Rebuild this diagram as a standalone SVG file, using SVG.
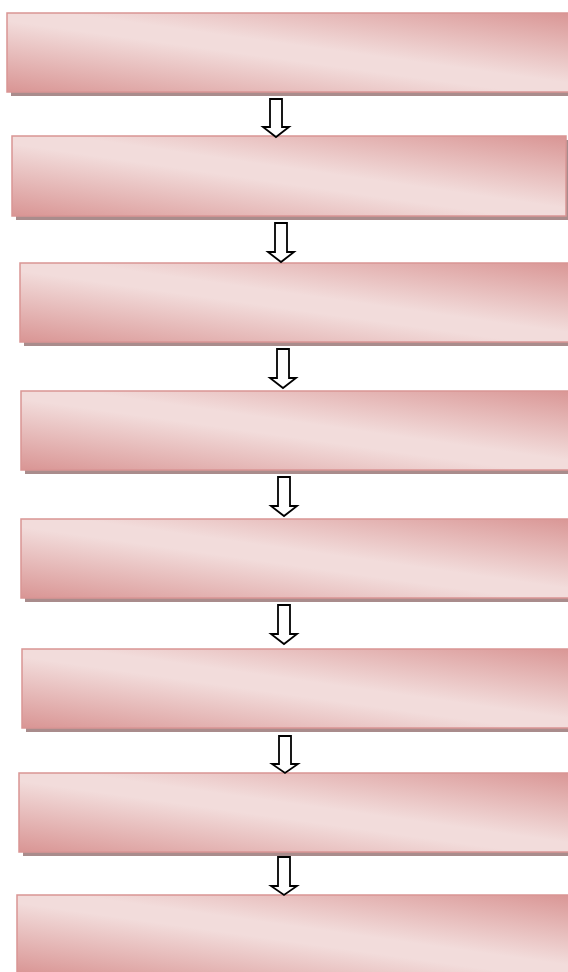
<svg xmlns="http://www.w3.org/2000/svg" width="568" height="972" viewBox="0 0 568 972">
<defs>
<linearGradient id="g" x1="1" y1="0" x2="0" y2="1">
<stop offset="0" stop-color="#d99594"/>
<stop offset="0.45" stop-color="#f2dcdb"/>
<stop offset="0.55" stop-color="#f2dcdb"/>
<stop offset="1" stop-color="#d99594"/>
</linearGradient>
</defs>
<style>
.sh{fill:#a98c8c}
.bx{fill:url(#g);stroke:#d99594;stroke-width:1.5}
.ar{fill:#ffffff;stroke:#000000;stroke-width:1.8;stroke-linejoin:miter}
</style>
<g id="node1"><rect class="sh" x="11" y="17" width="570" height="79"/><rect class="bx" x="7" y="13" width="570" height="79"/></g>
<g id="node2"><rect class="sh" x="16" y="140" width="554" height="80"/><rect class="bx" x="12" y="136" width="554" height="80"/></g>
<g id="node3"><rect class="sh" x="24" y="267" width="560" height="79"/><rect class="bx" x="20" y="263" width="560" height="79"/></g>
<g id="node4"><rect class="sh" x="25" y="395" width="560" height="79"/><rect class="bx" x="21" y="391" width="560" height="79"/></g>
<g id="node5"><rect class="sh" x="25" y="523" width="560" height="79"/><rect class="bx" x="21" y="519" width="560" height="79"/></g>
<g id="node6"><rect class="sh" x="26" y="653" width="560" height="79"/><rect class="bx" x="22" y="649" width="560" height="79"/></g>
<g id="node7"><rect class="sh" x="23" y="777" width="560" height="79"/><rect class="bx" x="19" y="773" width="560" height="79"/></g>
<g id="node8"><rect class="sh" x="21" y="899" width="560" height="79"/><rect class="bx" x="17" y="895" width="560" height="79"/></g>
<g id="connectors">
<path class="ar" d="M270,99 H282 V127 H289 L276,137 L263,127 H270 Z"/>
<path class="ar" d="M275,223 H287 V252 H294 L281,262 L268,252 H275 Z"/>
<path class="ar" d="M277,349 H289 V378 H296 L283,388 L270,378 H277 Z"/>
<path class="ar" d="M278,477 H290 V506 H297 L284,516 L271,506 H278 Z"/>
<path class="ar" d="M278,605 H290 V634 H297 L284,644 L271,634 H278 Z"/>
<path class="ar" d="M279,736 H291 V764 H298 L285,773 L272,764 H279 Z"/>
<path class="ar" d="M278,857 H290 V886 H297 L284,895 L271,886 H278 Z"/>
</g>
</svg>
